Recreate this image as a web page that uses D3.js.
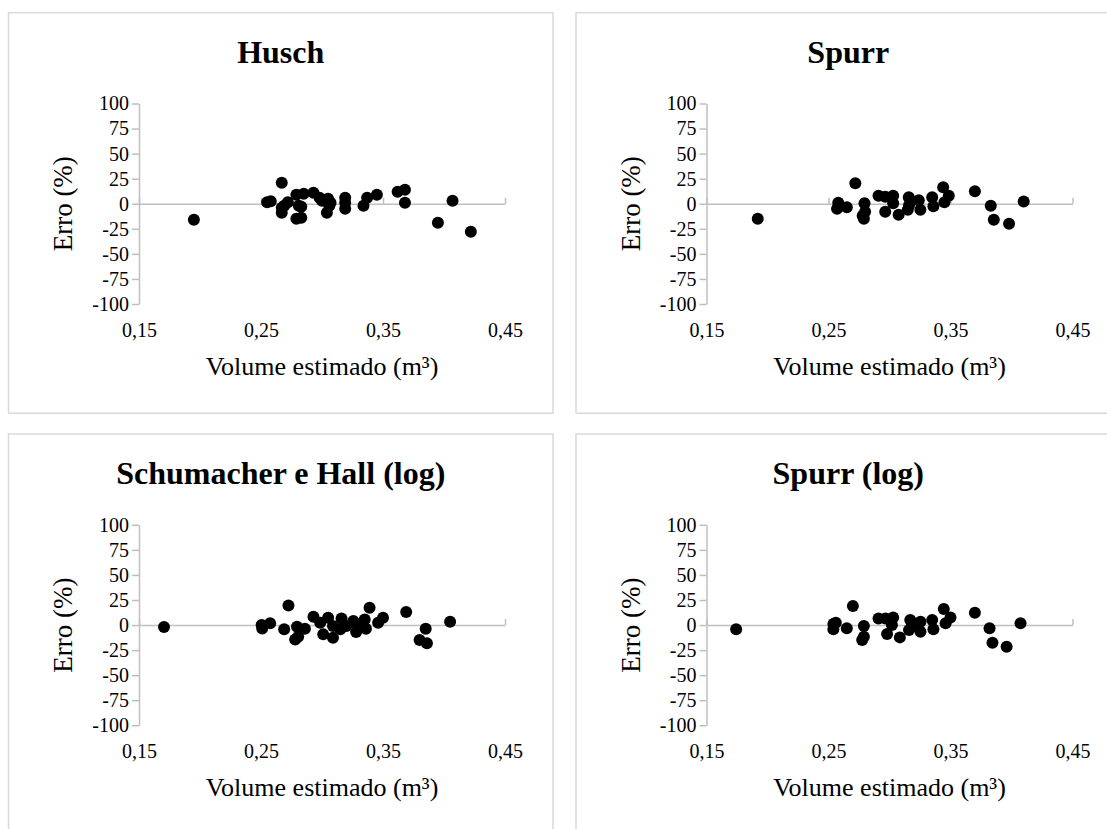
<!DOCTYPE html>
<html>
<head>
<meta charset="utf-8">
<script src="https://cdn.jsdelivr.net/npm/d3@7"></script>
<style>
  html, body { margin: 0; padding: 0; background: #fff; }
  svg { display: block; }
  svg text { font-family: "Liberation Serif", "Times New Roman", serif !important; fill: #000; }
</style>
</head>
<body>
<svg id="chart" width="1107" height="829"></svg>
<script>
// ---- data ----
const titles = ["Husch", "Spurr", "Schumacher e Hall (log)", "Spurr (log)"];
const xTicks = [0.15, 0.25, 0.35, 0.45];
const yTicks = [-100, -75, -50, -25, 0, 25, 50, 75, 100];
const xTitle = "Volume estimado (m³)";
const yTitle = "Erro (%)";

const husch = [
  [0.195,-16],[0.255,1.5],[0.258,2.5],[0.267,21],[0.267,-4],[0.267,-9],[0.269,-2],
  [0.272,1.5],[0.279,9],[0.283,-3],[0.285,10],[0.279,-15],[0.283,-14],[0.281,-2],
  [0.293,11],[0.298,6],[0.300,3],[0.305,5],[0.304,-9],[0.306,-2],[0.307,1],
  [0.319,6],[0.319,1],[0.319,-5],[0.334,-2],[0.337,6],[0.345,9],[0.362,12],
  [0.368,14],[0.368,1],[0.395,-19],[0.407,3],[0.422,-28]
];
const spurr = [
  [0.192,-15],[0.258,1],[0.257,-5],[0.265,-3.5],[0.272,20.5],[0.2795,0.5],[0.280,-8],
  [0.279,-15],[0.278,-12],[0.291,8],[0.2965,7],[0.303,8],[0.2965,-8],[0.303,0.5],
  [0.3075,-11],[0.3158,6.5],[0.316,-1.5],[0.315,-6],[0.324,3.5],[0.3253,-6],
  [0.335,6.5],[0.336,-2.5],[0.344,16.5],[0.345,1.5],[0.3486,8],[0.370,12.5],
  [0.383,-2],[0.3855,-16],[0.398,-20],[0.410,2.3]
];
const schumacherLog = [
  [0.1705,-2],[0.2505,0],[0.251,-3.5],[0.2575,1.7],[0.2725,19.5],[0.269,-4.3],
  [0.2795,-1.7],[0.286,-3.6],[0.278,-14.3],[0.2805,-11.6],[0.293,8.3],[0.2985,2.3],
  [0.301,-9.3],[0.305,7.3],[0.309,-1],[0.309,-12.6],[0.316,6.6],[0.315,-4.3],
  [0.320,-1],[0.3257,4],[0.328,-7],[0.329,0.7],[0.335,5.6],[0.336,-3.6],[0.339,17.2],
  [0.346,2.3],[0.350,7.3],[0.369,13],[0.385,-3.6],[0.380,-14.9],[0.386,-18.2],[0.405,3.3]
];
const spurrLog = [
  [0.1743,-4.3],[0.254,1],[0.254,-4.3],[0.256,2.3],[0.265,-3.3],[0.270,18.9],
  [0.279,-1],[0.2776,-15],[0.279,-11.6],[0.291,6.6],[0.2967,6.6],[0.303,7.6],
  [0.298,-9],[0.302,0],[0.3085,-12.3],[0.317,5],[0.316,-5],[0.3254,3.3],[0.3254,-6.6],
  [0.319,-1],[0.335,5],[0.336,-4.3],[0.3445,16],[0.346,1.7],[0.350,7.6],[0.370,12.3],
  [0.382,-3.3],[0.3844,-17.6],[0.396,-21.6],[0.4074,1.7]
];
const seriesList = [husch, spurr, schumacherLog, spurrLog];

// ---- layout ----
const svg = d3.select("#chart");
const panelOffsets = [[0,0],[567.5,0],[0,421.3],[567.5,421.3]];
const axisColor = "#bfbfbf";
const serif = "'Liberation Serif', 'Times New Roman', serif";

const x = d3.scaleLinear().domain([0.15, 0.45]).range([139, 505]);
const y = d3.scaleLinear().domain([-100, 100]).range([304, 103.5]);
const fmtX = d => d.toFixed(2).replace(".", ",");
const fmtY = d => String(d);

seriesList.forEach((data, i) => {
  const g = svg.append("g").attr("transform", `translate(${panelOffsets[i][0]},${panelOffsets[i][1]})`);

  // chart area border
  g.append("rect")
    .attr("x", 8.5).attr("y", 12.7).attr("width", 544.5).attr("height", 400.5)
    .attr("fill", "#fff").attr("stroke", "#d9d9d9").attr("stroke-width", 1.5);

  // title
  g.append("text")
    .attr("x", 280.75).attr("y", 63)
    .attr("text-anchor", "middle")
    .attr("font-family", serif)
    .style("font-size", "32px").style("font-weight", "bold")
    .text(titles[i]);

  // y axis
  const yAxis = g.append("g").attr("transform", `translate(${x(0.15)},0)`)
    .call(d3.axisLeft(y).tickValues(yTicks).tickFormat(fmtY).tickSize(7).tickSizeOuter(0).tickPadding(3))
    .attr("font-family", serif).attr("font-size", 20);
  yAxis.select(".domain").attr("stroke", axisColor).attr("stroke-width", 1.5);
  yAxis.selectAll(".tick line").attr("stroke", axisColor).attr("stroke-width", 1.5);
  yAxis.selectAll(".tick text").attr("fill", "#000");

  // x axis line crossing at zero, ticks upward
  const xAxis = g.append("g").attr("transform", `translate(0,${y(0)})`)
    .call(d3.axisTop(x).tickValues(xTicks).tickFormat("").tickSize(6).tickSizeOuter(0));
  xAxis.select(".domain").attr("stroke", axisColor).attr("stroke-width", 1.5);
  xAxis.selectAll(".tick line").attr("stroke", axisColor).attr("stroke-width", 1.5);

  // x labels at low position
  const xLab = g.append("g").attr("transform", `translate(0,${y(-100)})`)
    .call(d3.axisBottom(x).tickValues(xTicks).tickFormat(fmtX).tickSize(0).tickPadding(19))
    .attr("font-family", serif).attr("font-size", 20);
  xLab.select(".domain").remove();
  xLab.selectAll(".tick text").attr("fill", "#000");

  // axis titles
  g.append("text")
    .attr("x", (x(0.15) + x(0.45)) / 2).attr("y", 375)
    .attr("text-anchor", "middle").attr("font-family", serif).style("font-size", "26px")
    .text(xTitle);
  g.append("text")
    .attr("transform", `translate(63,${(y(100) + y(-100)) / 2}) rotate(-90)`)
    .attr("text-anchor", "middle").attr("dy", "0.35em").attr("font-family", serif).style("font-size", "27px")
    .text(yTitle);

  // points
  g.append("g").selectAll("circle").data(data).join("circle")
    .attr("cx", d => x(d[0])).attr("cy", d => y(d[1]))
    .attr("r", 6).attr("fill", "#000");
});
</script>
</body>
</html>
